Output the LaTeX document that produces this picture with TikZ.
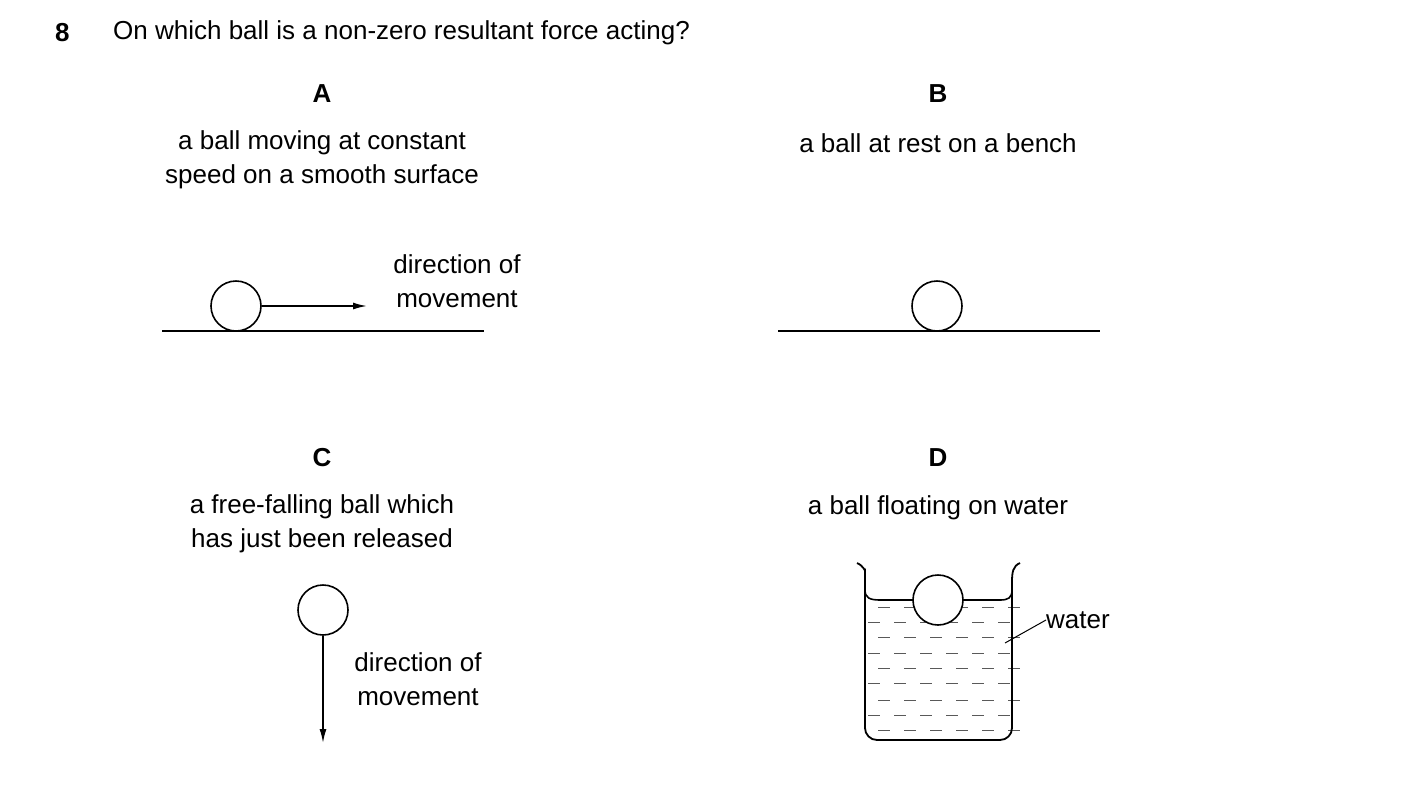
\documentclass[tikz,border=0pt]{standalone}
\usepackage{fontspec}
\setmainfont{Liberation Sans}
\usetikzlibrary{arrows.meta,positioning}

\begin{document}
\begin{tikzpicture}[
    x=1pt, y=-1pt, >=Latex,
    txt/.style={font=\fontsize{26}{34}\selectfont, align=center, inner sep=0pt},
    lbl/.style={font=\fontsize{26}{34}\selectfont\bfseries, inner sep=0pt},
    ball/.style={circle, draw, line width=1.6pt, minimum size=50pt, inner sep=0pt, fill=white},
    ground/.style={line width=1.6pt},
    move/.style={-{Latex[length=14pt,width=7pt]}, line width=1.6pt}
]

% ränder
\path[use as bounding box] (0,0) rectangle (1403,793);

% frage
\node[lbl, anchor=west] (num) at (55,33) {8};
\node[txt, anchor=west] (q) at (113,33) {On which ball is a non-zero resultant force acting?};

% A
\node[lbl] (labA) at (322,94) {A};
\node[txt] (txtA) at (322,160) {a ball moving at constant\\speed on a smooth surface};
\draw[ground] (162,331) -- (484,331);
\node[ball] (ballA) at (236,306) {};
\coordinate (tipA) at (367,306);
\draw[move] (ballA.east) -- (tipA);
\node[txt] (dirA) at (457,281) {direction of\\movement};

% B
\node[lbl] (labB) at (938,94) {B};
\node[txt] (txtB) at (938,143) {a ball at rest on a bench};
\draw[ground] (778,331) -- (1100,331);
\node[ball] (ballB) at (937,306) {};

% C
\node[lbl] (labC) at (322,458) {C};
\node[txt] (txtC) at (322,524) {a free-falling ball which\\has just been released};
\node[ball] (ballC) at (323,610) {};
\coordinate (tipC) at (323,743);
\draw[move] (ballC.south) -- (tipC);
\node[txt] (dirC) at (418,679) {direction of\\movement};

% D
\node[lbl] (labD) at (938,458) {D};
\node[txt] (txtD) at (938,508) {a ball floating on water};
% wasserstriche
\foreach \r [count=\i] in {607,622,637,653,668,683,700,715,730}{
  \pgfmathsetmacro{\off}{mod(\i,2)==1 ? 10 : 0}
  \foreach \k in {0,...,5}{
    \draw[line width=1pt, gray!70!black] ({868+\off+26*\k},\r) -- ({880+\off+26*\k},\r);
  }
}
% becher
\draw[line width=1.8pt, rounded corners=12pt]
  (857,563) .. controls (864,566) and (865,572) .. (865,582)
  -- (865,740) -- (1012,740) -- (1012,582);
\draw[line width=1.8pt] (1012,582) .. controls (1012,572) and (1013,566) .. (1020,563);
\draw[line width=1.6pt] (865,590) .. controls (865,598) and (870,600) .. (880,600) -- (1000,600)
  .. controls (1008,600) and (1012,598) .. (1012,590);
\node[ball] (ballD) at (938,600) {};
\node[txt, anchor=west] (water) at (1046,620) {water};
\coordinate (wpt) at (1005,643);
\draw[line width=1pt] (wpt) -- (water.west);
\end{tikzpicture}
\end{document}
